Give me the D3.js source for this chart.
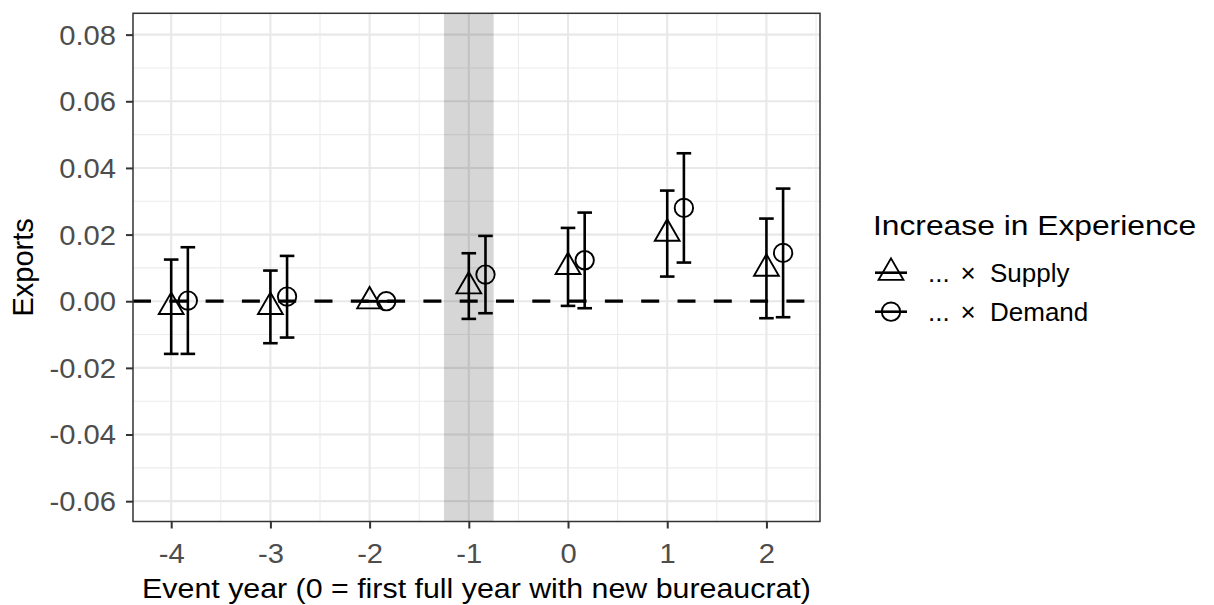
<!DOCTYPE html>
<html>
<head>
<meta charset="utf-8">
<script src="https://cdn.jsdelivr.net/npm/d3@7"></script>
<style>
  html, body { margin: 0; padding: 0; background: #fff; }
  svg { display: block; font-family: "Liberation Sans", Arial, Helvetica, sans-serif; }
</style>
</head>
<body>
<svg id="chart" width="1214" height="605"></svg>
<script>
// Event-study estimates: exports response to an increase in bureaucrat experience
const years = [-4, -3, -2, -1, 0, 1, 2];

const supplyEst = [-0.0017, -0.0017, 0, 0.0045, 0.0103, 0.0203, 0.0098];
const supplyLo  = [-0.0158, -0.0126, 0, -0.0053, -0.0014, 0.0074, -0.0051];
const supplyHi  = [0.0125, 0.0092, 0, 0.0144, 0.0220, 0.0332, 0.0248];

const demandEst = [0.0002, 0.0014, 0, 0.0080, 0.0123, 0.0280, 0.0145];
const demandLo  = [-0.0158, -0.0109, 0, -0.0036, -0.0021, 0.0116, -0.0048];
const demandHi  = [0.0162, 0.0136, 0, 0.0196, 0.0266, 0.0444, 0.0338];

const seriesNames = ["... \u00d7 Supply", "... \u00d7 Demand"];
const legendTitle = "Increase in Experience";

const yTicks = [-0.06, -0.04, -0.02, 0.00, 0.02, 0.04, 0.06, 0.08];
const yTickLabels = ["-0.06", "-0.04", "-0.02", "0.00", "0.02", "0.04", "0.06", "0.08"];
const yMinor = [-0.05, -0.03, -0.01, 0.01, 0.03, 0.05, 0.07];
const xTicks = [-4, -3, -2, -1, 0, 1, 2];
const xTickLabels = ["-4", "-3", "-2", "-1", "0", "1", "2"];
const xMinor = [-3.5, -2.5, -1.5, -0.5, 0.5, 1.5, 2.5];

// highlighted event year band
const bandYear = -1;
const bandHalfWidth = 0.25;
// horizontal dodge of the demand series
const demandShift = 0.168;

const svg = d3.select("#chart");
const W = 1214, H = 605;
const P = { left: 133, right: 820, top: 13.3, bottom: 521.5 };

const x = d3.scaleLinear().domain([-4.385, 2.54]).range([P.left, P.right]);
const y = d3.scaleLinear().domain([-0.0661, 0.0864]).range([P.bottom, P.top]);

svg.append("rect").attr("width", W).attr("height", H).attr("fill", "#fff");

const plot = svg.append("g");

// grid
plot.append("g").selectAll("line").data(yMinor).join("line")
  .attr("x1", P.left).attr("x2", P.right)
  .attr("y1", d => y(d)).attr("y2", d => y(d))
  .attr("stroke", "#ececec").attr("stroke-width", 1.1);
plot.append("g").selectAll("line").data(xMinor).join("line")
  .attr("y1", P.top).attr("y2", P.bottom)
  .attr("x1", d => x(d)).attr("x2", d => x(d))
  .attr("stroke", "#ececec").attr("stroke-width", 1.1);
plot.append("g").selectAll("line").data(yTicks).join("line")
  .attr("x1", P.left).attr("x2", P.right)
  .attr("y1", d => y(d)).attr("y2", d => y(d))
  .attr("stroke", "#e8e8e8").attr("stroke-width", 2.1);
plot.append("g").selectAll("line").data(xTicks).join("line")
  .attr("y1", P.top).attr("y2", P.bottom)
  .attr("x1", d => x(d)).attr("x2", d => x(d))
  .attr("stroke", "#e8e8e8").attr("stroke-width", 2.1);

// shaded event year
plot.append("rect")
  .attr("x", x(bandYear - bandHalfWidth))
  .attr("width", x(bandYear + bandHalfWidth) - x(bandYear - bandHalfWidth))
  .attr("y", P.top).attr("height", P.bottom - P.top)
  .attr("fill", "#000").attr("fill-opacity", 0.16);

// zero reference line
plot.append("line")
  .attr("x1", P.left).attr("x2", P.right)
  .attr("y1", y(0)).attr("y2", y(0))
  .attr("stroke", "#000").attr("stroke-width", 3.2)
  .attr("stroke-dasharray", "18,18.3");

const series = [
  { name: seriesNames[0], shape: "triangle", shift: 0, est: supplyEst, lo: supplyLo, hi: supplyHi },
  { name: seriesNames[1], shape: "circle", shift: demandShift, est: demandEst, lo: demandLo, hi: demandHi }
];

const capHalf = 7.3;
const ptR = 9.2;
const triR = 1.555 * ptR, triX = 1.347 * ptR, triY = 0.778 * ptR;
function trianglePath(cx, cy) {
  return `M${cx},${cy - triR}L${cx + triX},${cy + triY}L${cx - triX},${cy + triY}Z`;
}

series.forEach(s => {
  const rows = years.map((yr, i) => ({ xv: yr + s.shift, est: s.est[i], lo: s.lo[i], hi: s.hi[i] }));
  const g = plot.append("g").attr("stroke", "#000").attr("fill", "none");
  const eb = g.append("g").attr("stroke-width", 2.6);
  eb.selectAll("line.v").data(rows).join("line").attr("class", "v")
    .attr("x1", d => x(d.xv)).attr("x2", d => x(d.xv))
    .attr("y1", d => y(d.lo)).attr("y2", d => y(d.hi));
  eb.selectAll("line.t").data(rows).join("line").attr("class", "t")
    .attr("x1", d => x(d.xv) - capHalf).attr("x2", d => x(d.xv) + capHalf)
    .attr("y1", d => y(d.hi)).attr("y2", d => y(d.hi));
  eb.selectAll("line.b").data(rows).join("line").attr("class", "b")
    .attr("x1", d => x(d.xv) - capHalf).attr("x2", d => x(d.xv) + capHalf)
    .attr("y1", d => y(d.lo)).attr("y2", d => y(d.lo));
  const pts = g.append("g").attr("stroke-width", 1.9);
  if (s.shape === "circle") {
    pts.selectAll("circle").data(rows).join("circle")
      .attr("cx", d => x(d.xv)).attr("cy", d => y(d.est)).attr("r", ptR);
  } else {
    pts.selectAll("path").data(rows).join("path")
      .attr("d", d => trianglePath(x(d.xv), y(d.est)));
  }
});

// panel border
svg.append("rect")
  .attr("x", P.left).attr("y", P.top)
  .attr("width", P.right - P.left).attr("height", P.bottom - P.top)
  .attr("fill", "none").attr("stroke", "#333").attr("stroke-width", 1.5);

// axes
const tickFs = 27, tickSx = 1.08;
const yAxis = svg.append("g").attr("transform", `translate(${P.left},0)`)
  .call(d3.axisLeft(y).tickValues(yTicks).tickFormat((d, i) => yTickLabels[i]).tickSize(7).tickPadding(10));
const xAxis = svg.append("g").attr("transform", `translate(0,${P.bottom})`)
  .call(d3.axisBottom(x).tickValues(xTicks).tickFormat((d, i) => xTickLabels[i]).tickSize(7).tickPadding(10));
[yAxis, xAxis].forEach(a => {
  a.select(".domain").remove();
  a.selectAll(".tick line").attr("stroke", "#333").attr("stroke-width", 2);
  a.selectAll(".tick text").attr("fill", "#4d4d4d")
    .style("font-size", tickFs + "px").style("font-family", "'Liberation Sans', Arial, sans-serif");
});
yAxis.selectAll(".tick text")
  .attr("x", -17 / tickSx).attr("dy", "0.35em")
  .attr("transform", `scale(${tickSx},1)`);
xAxis.selectAll(".tick text")
  .attr("y", 0).attr("dy", 0)
  .attr("transform", `translate(0,${563 - P.bottom}) scale(${tickSx},1)`);

// text helper with horizontal scaling
function label(parent, txt, tx, ty, fs, sx, anchor, fill, rot) {
  const g = parent.append("g")
    .attr("transform", `translate(${tx},${ty})` + (rot ? ` rotate(${rot})` : "") + ` scale(${sx},1)`);
  return g.append("text").text(txt)
    .attr("text-anchor", anchor || "start")
    .attr("fill", fill || "#000")
    .style("font-size", fs + "px");
}

// axis titles
label(svg, "Event year (0 = first full year with new bureaucrat)", (P.left + P.right) / 2, 598, 28.5, 1.065, "middle");
label(svg, "Exports", 33, (P.top + P.bottom) / 2, 29, 1.0, "middle", "#000", -90);

// legend
const lg = svg.append("g");
label(lg, legendTitle, 873, 235, 28.5, 1.115, "start");
const keyX = 891, rowY = [272.7, 311.7];
series.forEach((s, i) => {
  const cy = rowY[i];
  const k = lg.append("g").attr("stroke", "#000").attr("fill", "none");
  k.append("line").attr("x1", keyX - 16).attr("x2", keyX + 16)
    .attr("y1", cy).attr("y2", cy).attr("stroke-width", 2.6);
  if (s.shape === "circle") {
    k.append("circle").attr("cx", keyX).attr("cy", cy).attr("r", ptR).attr("stroke-width", 1.9);
  } else {
    k.append("path").attr("d", trianglePath(keyX, cy)).attr("stroke-width", 1.9);
  }
  const parts = s.name.split(" ");
  const base = cy + 9;
  label(lg, parts[0], 928, base, 25, 1.04, "start");
  label(lg, parts[1], 968, base, 25, 1.04, "middle");
  label(lg, parts[2], 990, base, 25, 1.04, "start");
});
</script>
</body>
</html>
